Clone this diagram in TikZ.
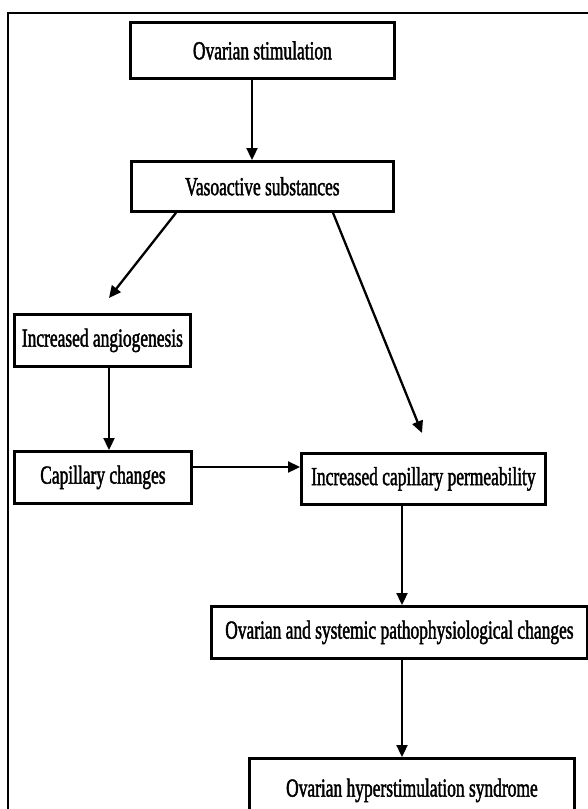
\documentclass[tikz,border=0pt]{standalone}
\usepackage{fontspec}
\usetikzlibrary{arrows.meta}
\newfontfamily\boxfont[FakeStretch=0.67,FakeBold=1.6]{Liberation Serif}
\begin{document}
\begin{tikzpicture}[x=1pt,y=-1pt,
  stepbox/.style={draw=black,line width=2.8pt,inner sep=0pt,anchor=north west,
    font=\boxfont\fontsize{26}{26}\selectfont,text=black},
  flow/.style={line width=2.3pt,-{Triangle[length=12pt,width=11pt]}}]
\useasboundingbox (0,0) rectangle (587,809);
\fill[white] (0,0) rectangle (587,809);
% outer frame
\draw[line width=1.8pt] (8,830) -- (8,13) -- (600,13);
% boxes
\node[stepbox,minimum width=264pt,minimum height=56pt] (stim) at (129,21) {Ovarian stimulation};
\node[stepbox,minimum width=262pt,minimum height=50pt] (vaso) at (130,160) {Vasoactive substances};
\node[stepbox,minimum width=176pt,minimum height=52pt] (angio) at (13,313) {Increased angiogenesis};
\node[stepbox,minimum width=177pt,minimum height=52pt] (cap) at (13,450) {Capillary changes};
\node[stepbox,minimum width=244pt,minimum height=51pt] (perm) at (300,452) {Increased capillary permeability};
\node[stepbox,minimum width=376pt,minimum height=52pt] (sys) at (210,605) {Ovarian and systemic pathophysiological changes};
\node[stepbox,minimum width=325pt,minimum height=64pt] (ohss) at (248,757) {Ovarian hyperstimulation syndrome};
% free arrow ends
\coordinate (tipL) at (109,298);
\coordinate (tipR) at (422,433);
% connectors
\draw[flow] (stim.south -| 252,0) -- (vaso.north -| 252,0);
\draw[flow] (vaso.south -| 176,0) -- (tipL);
\draw[flow] (vaso.south -| 333,0) -- (tipR);
\draw[flow] (angio.south -| 109,0) -- (cap.north -| 109,0);
\draw[flow] (cap.east |- 0,467) -- (perm.west |- 0,467);
\draw[flow] (perm.south -| 402,0) -- (sys.north -| 402,0);
\draw[flow] (sys.south -| 402,0) -- (ohss.north -| 402,0);
\end{tikzpicture}
\end{document}
